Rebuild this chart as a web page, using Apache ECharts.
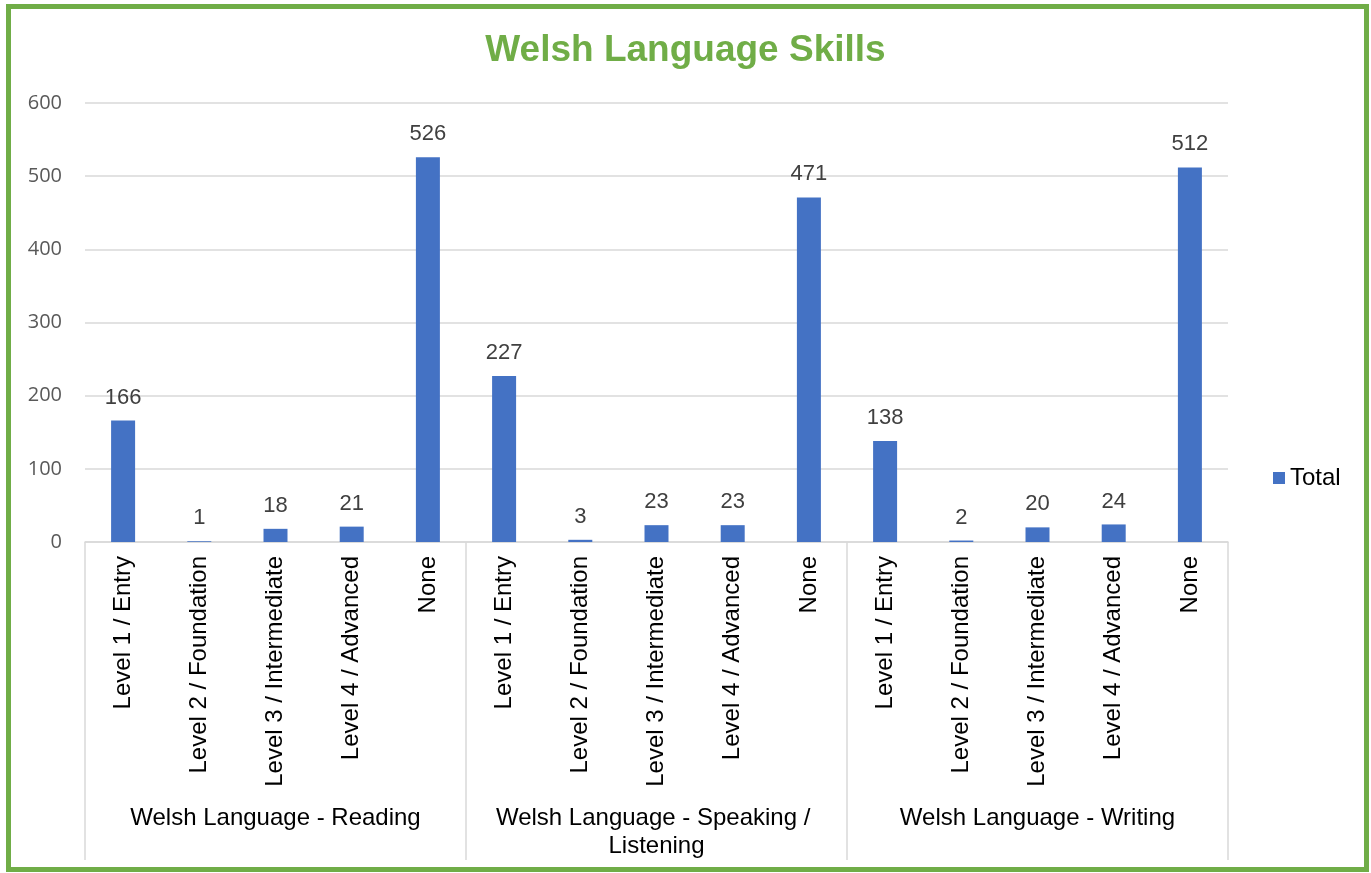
<!DOCTYPE html>
<html>
<head>
<meta charset="utf-8">
<title>Welsh Language Skills</title>
<script src="https://cdn.jsdelivr.net/npm/echarts@6/dist/echarts.min.js"></script>
<style>
  html, body { margin: 0; padding: 0; background: #fff; }
  #chart { width: 1371px; height: 873px; }
</style>
</head>
<body>
<div id="chart"></div>
<script>
var levels = [
  'Level 1 / Entry', 'Level 2 / Foundation', 'Level 3 / Intermediate', 'Level 4 / Advanced', 'None',
  'Level 1 / Entry', 'Level 2 / Foundation', 'Level 3 / Intermediate', 'Level 4 / Advanced', 'None',
  'Level 1 / Entry', 'Level 2 / Foundation', 'Level 3 / Intermediate', 'Level 4 / Advanced', 'None'
]
var groups = ['Welsh Language - Reading', 'Welsh Language - Speaking / Listening', 'Welsh Language - Writing']
var totals = [166, 1, 18, 21, 526, 227, 3, 23, 23, 471, 138, 2, 20, 24, 512]
var yTicks = [0, 100, 200, 300, 400, 500, 600]

var green = '#70AD47'
var gridGrey = '#d9d9d9'

var chart = echarts.init(document.getElementById('chart'))

chart.setOption({
  animation: false,
  textStyle: { fontFamily: 'Liberation Sans, Arial, sans-serif' },
  title: {
    text: 'Welsh Language Skills',
    left: 'center',
    top: 27,
    textStyle: { color: green, fontSize: 37, fontWeight: 'bold' }
  },
  legend: {
    data: ['Total'],
    left: 1268,
    top: 461,
    icon: 'rect',
    itemWidth: 12,
    itemHeight: 12,
    itemGap: 6,
    textStyle: { color: '#000', fontSize: 24 }
  },
  grid: {
    left: 85,
    right: 143,
    top: 103,
    bottom: 331
  },
  xAxis: [
    {
      type: 'category',
      data: levels,
      position: 'bottom',
      axisLine: { lineStyle: { color: gridGrey, width: 1.5 } },
      axisTick: { show: false },
      axisLabel: {
        interval: 0,
        rotate: 90,
        margin: 14,
        fontSize: 24,
        color: '#000'
      }
    },
    {
      type: 'category',
      data: groups,
      position: 'bottom',
      offset: 0,
      axisLine: { show: false },
      axisTick: {
        show: true,
        interval: 0,
        length: 318,
        lineStyle: { color: gridGrey, width: 1.5 }
      },
      axisLabel: {
        interval: 0,
        margin: 262,
        fontSize: 24,
        lineHeight: 28,
        color: '#000',
        width: 340,
        overflow: 'break'
      }
    }
  ],
  yAxis: {
    type: 'value',
    min: yTicks[0],
    max: yTicks[yTicks.length - 1],
    interval: 100,
    axisLine: { show: false },
    axisTick: { show: false },
    splitLine: { lineStyle: { color: gridGrey, width: 1.5 } },
    axisLabel: {
      margin: 23,
      fontSize: 20,
      color: '#595959',
      fontFamily: 'Open Sans, sans-serif'
    }
  },
  series: [
    {
      name: 'Total',
      type: 'bar',
      xAxisIndex: 0,
      barWidth: 24,
      itemStyle: { color: '#4472C4' },
      label: {
        show: true,
        position: 'top',
        distance: 12,
        fontSize: 22,
        color: '#404040'
      },
      data: totals
    }
  ],
  graphic: [
    {
      type: 'rect',
      silent: true,
      shape: { x: 8.5, y: 6.5, width: 1358, height: 863 },
      style: { fill: 'none', stroke: green, lineWidth: 5 }
    }
  ]
})
</script>
</body>
</html>
